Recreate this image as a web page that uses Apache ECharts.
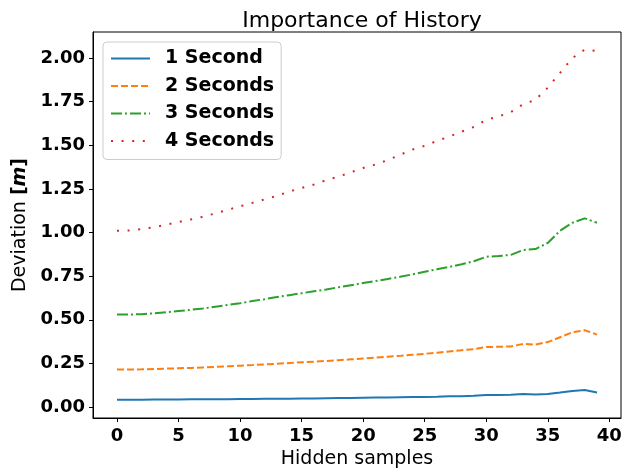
<!DOCTYPE html>
<html>
<head>
<meta charset="utf-8">
<script src="https://cdn.jsdelivr.net/npm/echarts@6/dist/echarts.min.js"></script>
<style>
  html, body { margin: 0; padding: 0; background: #fff; }
  #chart { width: 622px; height: 468px; }
</style>
</head>
<body>
<div id="chart"></div>
<script>
// hidden samples 0..39
var samples = [];
for (var i = 0; i < 40; i++) samples.push(i);

var oneSecond = [0.042, 0.042, 0.042, 0.043, 0.043, 0.043, 0.044, 0.044, 0.045, 0.045,
  0.046, 0.046, 0.047, 0.047, 0.048, 0.049, 0.049, 0.050, 0.051, 0.052,
  0.053, 0.054, 0.055, 0.056, 0.057, 0.058, 0.059, 0.061, 0.062, 0.064,
  0.069, 0.069, 0.070, 0.074, 0.072, 0.075, 0.083, 0.092, 0.097, 0.083];

var twoSeconds = [0.215, 0.215, 0.216, 0.218, 0.220, 0.222, 0.224, 0.227, 0.230, 0.233,
  0.237, 0.240, 0.244, 0.248, 0.252, 0.256, 0.260, 0.264, 0.268, 0.273,
  0.278, 0.283, 0.288, 0.293, 0.299, 0.305, 0.311, 0.318, 0.325, 0.332,
  0.344, 0.345, 0.347, 0.362, 0.358, 0.372, 0.400, 0.428, 0.440, 0.415];

var threeSeconds = [0.530, 0.530, 0.532, 0.537, 0.543, 0.550, 0.557, 0.565, 0.575, 0.585,
  0.595, 0.607, 0.618, 0.630, 0.641, 0.652, 0.663, 0.674, 0.686, 0.698,
  0.710, 0.722, 0.734, 0.746, 0.760, 0.775, 0.790, 0.803, 0.818, 0.835,
  0.861, 0.865, 0.872, 0.900, 0.905, 0.940, 1.010, 1.056, 1.081, 1.056];

var fourSeconds = [1.010, 1.012, 1.020, 1.030, 1.045, 1.060, 1.075, 1.090, 1.110, 1.130,
  1.150, 1.170, 1.190, 1.210, 1.235, 1.255, 1.275, 1.300, 1.320, 1.345,
  1.370, 1.390, 1.415, 1.445, 1.475, 1.497, 1.525, 1.550, 1.578, 1.605,
  1.645, 1.665, 1.690, 1.735, 1.760, 1.830, 1.915, 2.000, 2.048, 2.040];

var xTicks = [0, 5, 10, 15, 20, 25, 30, 35, 40];
var yTicks = [0, 0.25, 0.5, 0.75, 1.0, 1.25, 1.5, 1.75, 2.0];

var font = "DejaVu Sans";

function pairs(ys) {
  return samples.map(function (x, i) { return [x, ys[i]]; });
}

var chart = echarts.init(document.getElementById("chart"));

var option = {
  animation: false,
  title: {
    text: "Importance of History",
    left: 357,
    textAlign: "center",
    top: 5,
    textStyle: { fontFamily: font, fontSize: 22, fontWeight: "normal", color: "#000" },
  },
  grid: {
    left: 93,
    right: 1,
    top: 32,
    bottom: 50,
    outerBoundsMode: "none",
    containLabel: false,
    show: true,
    borderColor: "#000",
    borderWidth: 1,
  },
  legend: {
    orient: "vertical",
    left: 103,
    top: 42,
    padding: [7, 7, 9, 7],
    itemWidth: 39,
    itemHeight: 14,
    itemGap: 8.5,
    backgroundColor: "rgba(255,255,255,0.8)",
    borderColor: "#cccccc",
    borderWidth: 1,
    borderRadius: 4,
    itemStyle: { opacity: 0 },
    textStyle: {
      fontFamily: font,
      fontSize: 19,
      fontWeight: "bold",
      color: "#000",
      padding: [0, 0, 0, 10],
    },
    data: ["1 Second", "2 Seconds", "3 Seconds", "4 Seconds"],
  },
  xAxis: {
    type: "value",
    min: -1.95,
    max: 40.95,
    name: "Hidden samples",
    nameLocation: "middle",
    nameGap: 31,
    nameTextStyle: { fontFamily: font, fontSize: 19, color: "#000" },
    splitLine: { show: false },
    axisLine: { show: true, onZero: false, lineStyle: { color: "#000", width: 1 } },
    axisTick: { show: true, length: 4, customValues: xTicks, lineStyle: { color: "#000" } },
    axisLabel: {
      customValues: xTicks,
      margin: 9,
      fontFamily: font,
      fontSize: 18,
      fontWeight: "bold",
      color: "#000",
    },
  },
  yAxis: {
    type: "value",
    min: -0.063,
    max: 2.149,
    name: "Deviation {b|[}{bi|m}{b|]}",
    nameLocation: "middle",
    nameGap: 58,
    nameTextStyle: {
      fontFamily: font,
      fontSize: 19,
      color: "#000",
      rich: {
        b: { fontFamily: font, fontSize: 19, fontWeight: "bold", color: "#000" },
        bi: { fontFamily: font, fontSize: 19, fontWeight: "bold", fontStyle: "italic", color: "#000" },
      },
    },
    splitLine: { show: false },
    axisLine: { show: true, onZero: false, lineStyle: { color: "#000", width: 1 } },
    axisTick: { show: true, length: 4, customValues: yTicks, lineStyle: { color: "#000" } },
    axisLabel: {
      customValues: yTicks,
      margin: 8,
      fontFamily: font,
      fontSize: 18,
      fontWeight: "bold",
      color: "#000",
      formatter: function (v) { return v.toFixed(2); },
    },
  },
  series: [
    {
      name: "1 Second",
      type: "line",
      data: pairs(oneSecond),
      showSymbol: false,
      symbol: "none",
      color: "#1f77b4",
      lineStyle: { width: 2, color: "#1f77b4" },
    },
    {
      name: "2 Seconds",
      type: "line",
      data: pairs(twoSeconds),
      showSymbol: false,
      symbol: "none",
      color: "#ff7f0e",
      lineStyle: { width: 2, color: "#ff7f0e", type: [7, 3] },
    },
    {
      name: "3 Seconds",
      type: "line",
      data: pairs(threeSeconds),
      showSymbol: false,
      symbol: "none",
      color: "#2ca02c",
      lineStyle: { width: 2, color: "#2ca02c", type: [11, 3, 2, 3] },
    },
    {
      name: "4 Seconds",
      type: "line",
      data: pairs(fourSeconds),
      showSymbol: false,
      symbol: "none",
      color: "#d62728",
      lineStyle: { width: 2, color: "#d62728", type: [2, 8.6] },
    },
  ],
};

chart.setOption(option);
</script>
</body>
</html>
